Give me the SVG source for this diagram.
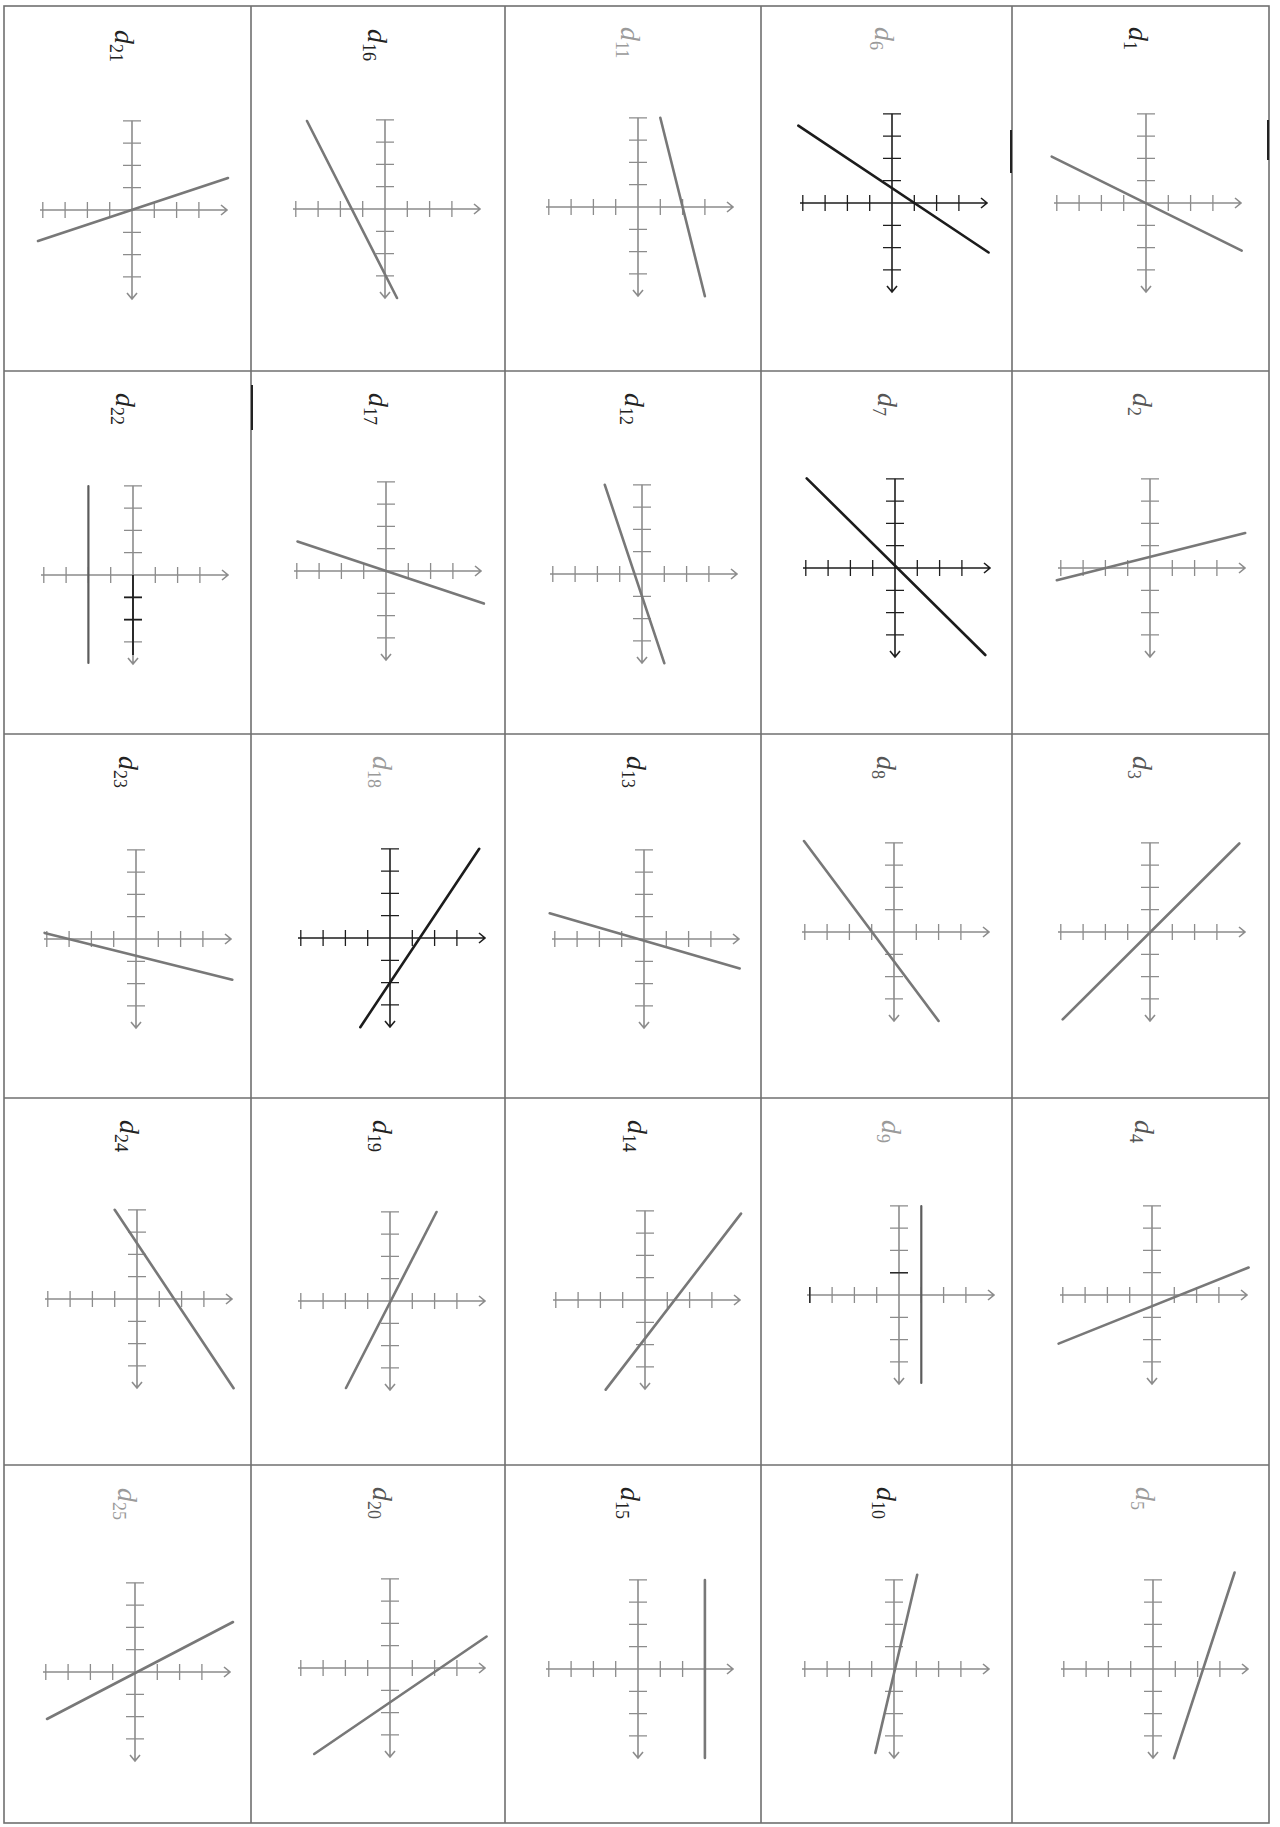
<svg xmlns="http://www.w3.org/2000/svg" xmlns:xlink="http://www.w3.org/1999/xlink" width="1280" height="1827" viewBox="0 0 1280 1827">
<style>
.grid{stroke:#707070;stroke-width:1.6;fill:none}
.ax{fill:none;stroke:currentColor;stroke-width:1.6}
.tk{fill:none;stroke:currentColor;stroke-width:1.3}
.ln{stroke:#787878;stroke-width:2.6;stroke-linecap:round;fill:none}
.k{stroke:#1c1c1c}
.v{stroke:#5c5c5c;stroke-width:2.2}
.lb{font-family:"Liberation Serif","DejaVu Serif",serif;font-size:28px}
.it{font-style:italic}
.sub{font-size:18px}
.dk{fill:#222}
.md{fill:#555}
.lt{fill:#9a9a9a}
</style>
<defs>
<g id="ax">
<path class="ax" d="M-92 0H95M89 -5L95 0L89 5M0 -89.2V89M-5 83L0 89L5 83"/>
<path class="tk" d="M-89.2 -8V8M-66.9 -8V8M-44.6 -8V8M-22.3 -8V8M22.3 -8V8M44.6 -8V8M66.9 -8V8M-9 -89.2H9M-9 -66.9H9M-9 -44.6H9M-9 -22.3H9M-9 22.3H9M-9 44.6H9M-9 66.9H9"/>
</g>
</defs>
<rect x="0" y="0" width="1280" height="1827" fill="#ffffff"/>
<g id="grid" class="grid">
<rect x="4" y="6" width="1265" height="1817"/>
<path d="M251 6V1823M505 6V1823M761 6V1823M1012 6V1823M4 371H1269M4 734H1269M4 1098H1269M4 1465H1269"/>
<path stroke="#222" stroke-width="2" d="M1011 130V173M252 385V430M1268 120V160"/>
</g>
<g id="connectors"></g>

<!-- Row 1 -->
<g id="card-d21" transform="translate(132,210)" color="#8c8c8c">
<use xlink:href="#ax"/><line class="ln" x1="-94" y1="31" x2="96" y2="-32"/>
<text class="lb dk" transform="translate(-17,-180) rotate(90)"><tspan class="it">d</tspan><tspan class="sub" dy="5">21</tspan></text>
</g>
<g id="card-d16" transform="translate(385,209)" color="#8c8c8c">
<use xlink:href="#ax"/><line class="ln" x1="-78" y1="-88" x2="12" y2="89"/>
<text class="lb dk" transform="translate(-17,-180) rotate(90)"><tspan class="it">d</tspan><tspan class="sub" dy="5">16</tspan></text>
</g>
<g id="card-d11" transform="translate(638,207)" color="#8c8c8c">
<use xlink:href="#ax"/><line class="ln" x1="22.3" y1="-89.2" x2="66.9" y2="89.2"/>
<text class="lb lt" transform="translate(-17,-180) rotate(90)"><tspan class="it">d</tspan><tspan class="sub" dy="5">11</tspan></text>
</g>
<g id="card-d6" transform="translate(892,203)" color="#1e1e1e">
<use xlink:href="#ax"/><line class="ln k" x1="-93.7" y1="-77.4" x2="96.6" y2="49.5"/>
<text class="lb lt" transform="translate(-17,-176) rotate(90)"><tspan class="it">d</tspan><tspan class="sub" dy="5">6</tspan></text>
</g>
<g id="card-d1" transform="translate(1146,203)" color="#8c8c8c">
<use xlink:href="#ax"/><line class="ln" x1="-94.3" y1="-46.3" x2="95.7" y2="47.7"/>
<text class="lb dk" transform="translate(-17,-176) rotate(90)"><tspan class="it">d</tspan><tspan class="sub" dy="5">1</tspan></text>
</g>

<!-- Row 2 -->
<g id="card-d22" transform="translate(133,575)" color="#8c8c8c">
<use xlink:href="#ax"/>
<path fill="none" stroke="#1e1e1e" stroke-width="1.8" d="M0 0V80M-9 22.3H9M-9 44.6H9"/>
<line class="ln v" x1="-44.6" y1="-89" x2="-44.6" y2="88"/>
<text class="lb dk" transform="translate(-17,-182) rotate(90)"><tspan class="it">d</tspan><tspan class="sub" dy="5">22</tspan></text>
</g>
<g id="card-d17" transform="translate(386,571)" color="#8c8c8c">
<use xlink:href="#ax"/><line class="ln" x1="-88.5" y1="-29.5" x2="97.9" y2="32.6"/>
<text class="lb dk" transform="translate(-17,-178) rotate(90)"><tspan class="it">d</tspan><tspan class="sub" dy="5">17</tspan></text>
</g>
<g id="card-d12" transform="translate(642,574)" color="#8c8c8c">
<use xlink:href="#ax"/><line class="ln" x1="-37.2" y1="-89.2" x2="22.3" y2="89.2"/>
<text class="lb dk" transform="translate(-17,-181) rotate(90)"><tspan class="it">d</tspan><tspan class="sub" dy="5">12</tspan></text>
</g>
<g id="card-d7" transform="translate(895,568)" color="#1e1e1e">
<use xlink:href="#ax"/><line class="ln k" x1="-88.3" y1="-89.7" x2="90.3" y2="87"/>
<text class="lb md" transform="translate(-17,-175) rotate(90)"><tspan class="it">d</tspan><tspan class="sub" dy="5">7</tspan></text>
</g>
<g id="card-d2" transform="translate(1150,568)" color="#8c8c8c">
<use xlink:href="#ax"/><line class="ln" x1="-93.2" y1="12.2" x2="95.2" y2="-35"/>
<text class="lb md" transform="translate(-17,-175) rotate(90)"><tspan class="it">d</tspan><tspan class="sub" dy="5">2</tspan></text>
</g>

<!-- Row 3 -->
<g id="card-d23" transform="translate(136,939)" color="#8c8c8c">
<use xlink:href="#ax"/><line class="ln" x1="-91.4" y1="-6.1" x2="96.3" y2="40.8"/>
<text class="lb dk" transform="translate(-17,-183) rotate(90)"><tspan class="it">d</tspan><tspan class="sub" dy="5">23</tspan></text>
</g>
<g id="card-d18" transform="translate(390,938)" color="#1e1e1e">
<use xlink:href="#ax"/><line class="ln k" x1="-29.7" y1="89.2" x2="89.2" y2="-89.2"/>
<text class="lb lt" transform="translate(-17,-182) rotate(90)"><tspan class="it">d</tspan><tspan class="sub" dy="5">18</tspan></text>
</g>
<g id="card-d13" transform="translate(644,939)" color="#8c8c8c">
<use xlink:href="#ax"/><line class="ln" x1="-94.3" y1="-25.7" x2="95.7" y2="29.5"/>
<text class="lb dk" transform="translate(-17,-183) rotate(90)"><tspan class="it">d</tspan><tspan class="sub" dy="5">13</tspan></text>
</g>
<g id="card-d8" transform="translate(894,932)" color="#8c8c8c">
<use xlink:href="#ax"/><line class="ln" x1="-90" y1="-91" x2="44.6" y2="89"/>
<text class="lb md" transform="translate(-17,-176) rotate(90)"><tspan class="it">d</tspan><tspan class="sub" dy="5">8</tspan></text>
</g>
<g id="card-d3" transform="translate(1150,932)" color="#8c8c8c">
<use xlink:href="#ax"/><line class="ln" x1="-87.3" y1="87.4" x2="89.3" y2="-88.5"/>
<text class="lb md" transform="translate(-17,-176) rotate(90)"><tspan class="it">d</tspan><tspan class="sub" dy="5">3</tspan></text>
</g>

<!-- Row 4 -->
<g id="card-d24" transform="translate(137,1299)" color="#8c8c8c">
<use xlink:href="#ax"/><line class="ln" x1="-22.3" y1="-89.2" x2="96.6" y2="89.2"/>
<text class="lb dk" transform="translate(-17,-179) rotate(90)"><tspan class="it">d</tspan><tspan class="sub" dy="5">24</tspan></text>
</g>
<g id="card-d19" transform="translate(390,1301)" color="#8c8c8c">
<use xlink:href="#ax"/><line class="ln" x1="-44" y1="87" x2="46.5" y2="-89"/>
<text class="lb dk" transform="translate(-17,-181) rotate(90)"><tspan class="it">d</tspan><tspan class="sub" dy="5">19</tspan></text>
</g>
<g id="card-d14" transform="translate(645,1300)" color="#8c8c8c">
<use xlink:href="#ax"/><line class="ln" x1="-39.3" y1="89.6" x2="96" y2="-86.4"/>
<text class="lb dk" transform="translate(-17,-180) rotate(90)"><tspan class="it">d</tspan><tspan class="sub" dy="5">14</tspan></text>
</g>
<g id="card-d9" transform="translate(899,1295)" color="#8c8c8c">
<use xlink:href="#ax"/>
<path fill="none" stroke="#2a2a2a" stroke-width="1.5" d="M-9 -22.3H9M-89.2 -8V8"/>
<line class="ln v" x1="22.3" y1="-89" x2="22.3" y2="88"/>
<text class="lb lt" transform="translate(-17,-175) rotate(90)"><tspan class="it">d</tspan><tspan class="sub" dy="5">9</tspan></text>
</g>
<g id="card-d4" transform="translate(1152,1295)" color="#8c8c8c">
<use xlink:href="#ax"/><line class="ln" x1="-93.4" y1="48.6" x2="96.6" y2="-27.5"/>
<text class="lb md" transform="translate(-17,-175) rotate(90)"><tspan class="it">d</tspan><tspan class="sub" dy="5">4</tspan></text>
</g>

<!-- Row 5 -->
<g id="card-d25" transform="translate(135,1672)" color="#8c8c8c">
<use xlink:href="#ax"/><line class="ln" x1="-88" y1="47" x2="98" y2="-50"/>
<text class="lb lt" transform="translate(-17,-184) rotate(90)"><tspan class="it">d</tspan><tspan class="sub" dy="5">25</tspan></text>
</g>
<g id="card-d20" transform="translate(390,1668)" color="#8c8c8c">
<use xlink:href="#ax"/><line class="ln" x1="-75.8" y1="86" x2="96.6" y2="-31.5"/>
<text class="lb md" transform="translate(-17,-181) rotate(90)"><tspan class="it">d</tspan><tspan class="sub" dy="5">20</tspan></text>
</g>
<g id="card-d15" transform="translate(638,1669)" color="#8c8c8c">
<use xlink:href="#ax"/><line class="ln" x1="66.9" y1="-89" x2="66.9" y2="89"/>
<text class="lb dk" transform="translate(-17,-182) rotate(90)"><tspan class="it">d</tspan><tspan class="sub" dy="5">15</tspan></text>
</g>
<g id="card-d10" transform="translate(894,1669)" color="#8c8c8c">
<use xlink:href="#ax"/><line class="ln" x1="-18.7" y1="83.9" x2="23.2" y2="-94.3"/>
<text class="lb dk" transform="translate(-17,-182) rotate(90)"><tspan class="it">d</tspan><tspan class="sub" dy="5">10</tspan></text>
</g>
<g id="card-d5" transform="translate(1153,1669)" color="#8c8c8c">
<use xlink:href="#ax"/><line class="ln" x1="21" y1="89.2" x2="81.6" y2="-96.5"/>
<text class="lb lt" transform="translate(-17,-182) rotate(90)"><tspan class="it">d</tspan><tspan class="sub" dy="5">5</tspan></text>
</g>
</svg>
